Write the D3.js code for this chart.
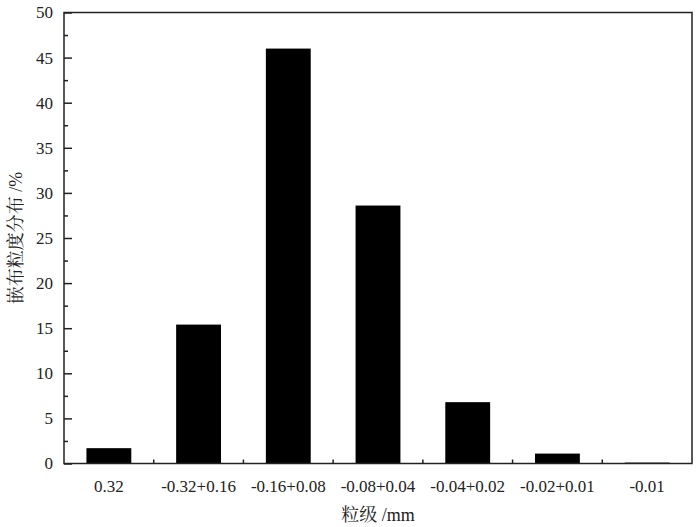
<!DOCTYPE html>
<html>
<head>
<meta charset="utf-8">
<script src="https://cdn.jsdelivr.net/npm/d3@7"></script>
<style>
body { margin: 0; background: #fff; }
svg { display: block; }
svg text { font-family: "Liberation Serif", "Times New Roman", Tinos, "DejaVu Serif", serif !important; fill: #222; }
svg text.cjk { font-family: "Liberation Serif", "Times New Roman", "Noto Serif CJK SC", "Noto Sans CJK SC", serif !important; }
</style>
</head>
<body>
<svg id="chart" width="700" height="527"></svg>
<script>
const categories = ["0.32", "-0.32+0.16", "-0.16+0.08", "-0.08+0.04", "-0.04+0.02", "-0.02+0.01", "-0.01"];
const values = [1.7, 15.4, 46.0, 28.6, 6.8, 1.1, 0.1];
const yTicks = [0, 5, 10, 15, 20, 25, 30, 35, 40, 45, 50];
const yMinorTicks = [2.5, 7.5, 12.5, 17.5, 22.5, 27.5, 32.5, 37.5, 42.5, 47.5];
const xTitle = "粒级 /mm";
const yTitle = "嵌布粒度分布 /%";

const W = 700, H = 527;
const m = { left: 64, right: 8, top: 12.5, bottom: 63.5 };
const svg = d3.select("#chart");
const x = d3.scaleBand().domain(categories).range([m.left, W - m.right]).paddingInner(0.5).paddingOuter(0.25);
const y = d3.scaleLinear().domain([0, 50]).range([H - m.bottom, m.top]);

// bars
svg.append("g").selectAll("rect").data(values).join("rect")
  .attr("x", (d, i) => x(categories[i]))
  .attr("width", x.bandwidth())
  .attr("y", d => y(d))
  .attr("height", d => y(0) - y(d))
  .attr("fill", "#000");

// frame
svg.append("rect")
  .attr("x", m.left).attr("y", m.top)
  .attr("width", W - m.right - m.left).attr("height", y(0) - m.top)
  .attr("fill", "none").attr("stroke", "#222").attr("stroke-width", 1.5);

// y axis
const yAxis = d3.axisLeft(y).tickValues(yTicks).tickSize(-8).tickPadding(11).tickFormat(d3.format("d"));
const gy = svg.append("g").attr("transform", `translate(${m.left},0)`).call(yAxis);
gy.select(".domain").remove();
gy.selectAll("line").attr("stroke", "#222").attr("stroke-width", 1.5);
gy.selectAll("text").attr("font-size", 17).attr("fill", "#222");
const gym = svg.append("g").attr("transform", `translate(${m.left},0)`)
  .call(d3.axisLeft(y).tickValues(yMinorTicks).tickSize(-4).tickFormat(""));
gym.select(".domain").remove();
gym.selectAll("line").attr("stroke", "#222").attr("stroke-width", 1.5);

// x axis
const xAxis = d3.axisBottom(x).tickSize(0).tickPadding(16);
const gx = svg.append("g").attr("transform", `translate(0,${y(0)})`).call(xAxis);
gx.select(".domain").remove();
gx.selectAll("text").attr("font-size", 17).attr("fill", "#222");
// x ticks between categories
const step = x.step();
const between = categories.slice(0, -1).map(c => x(c) + x.bandwidth() / 2 + step / 2);
svg.append("g").selectAll("line").data(between).join("line")
  .attr("x1", d => d).attr("x2", d => d)
  .attr("y1", y(0)).attr("y2", y(0) - 4)
  .attr("stroke", "#222").attr("stroke-width", 1.5);

// titles
svg.append("text").attr("class", "cjk")
  .attr("x", (m.left + W - m.right) / 2).attr("y", 521)
  .attr("text-anchor", "middle").attr("font-size", 18)
  .text(xTitle);
svg.append("text").attr("class", "cjk")
  .attr("transform", `translate(22,${(m.top + y(0)) / 2}) rotate(-90)`)
  .attr("text-anchor", "middle").attr("font-size", 18)
  .text(yTitle);
</script>
</body>
</html>
